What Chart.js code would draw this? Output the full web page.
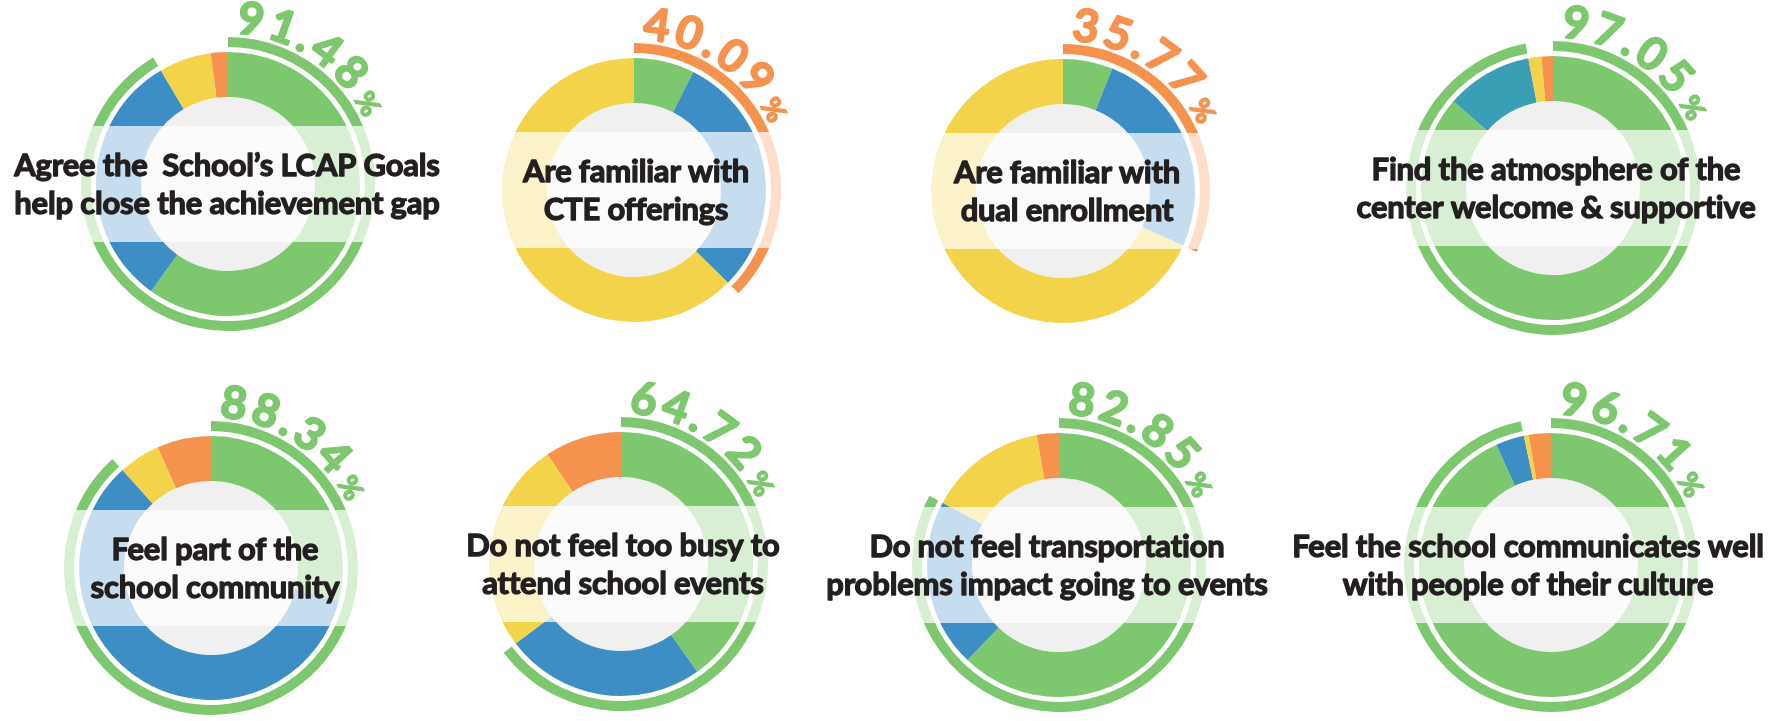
<!DOCTYPE html>
<html><head><meta charset="utf-8">
<script src="https://cdn.jsdelivr.net/npm/chart.js@4/dist/chart.umd.min.js"></script>
<style>
html,body{margin:0;padding:0;background:#fff;width:1779px;height:721px;overflow:hidden;position:relative}
canvas{position:absolute}
</style></head><body>
<script>
// ---- data ----
const questions = [
  ["Agree the  School\u2019s LCAP Goals", "help close the achievement gap"],
  ["Are familiar with", "CTE offerings"],
  ["Are familiar with", "dual enrollment"],
  ["Find the atmosphere of the", "center welcome & supportive"],
  ["Feel part of the", "school community"],
  ["Do not feel too busy to", "attend school events"],
  ["Do not feel transportation", "problems impact going to events"],
  ["Feel the school communicates well", "with people of their culture"]
];
const responseCategories = ["Strongly agree", "Agree", "Disagree", "Strongly disagree"];
const stronglyAgree    = [59.9,  7.4,  6.1, 86.4, 29.0, 40.2, 62.2, 93.2];
const agree            = [31.6, 30.0, 25.7, 10.6, 59.3, 24.5, 20.6,  3.5];
const disagree         = [ 6.4, 62.6, 68.2,  1.6,  5.1, 25.9, 14.5,  0.6];
const stronglyDisagree = [ 2.1,  0.0,  0.0,  1.4,  6.6,  9.4,  2.7,  2.7];
const percentLabels    = ["91.48", "40.09", "35.77", "97.05", "88.34", "64.72", "82.85", "96.71"];

// ---- layout / style ----
const centers = [[228,184],[634,190],[1063,191],[1553,188],[211,568],[621,564],[1059,565],[1551,565]];
const textCenterX = [227,636,1067,1556,215,623,1047,1528];
const GREEN = '#7dc86e', BLUE = '#3e8ec6', TEAL = '#3a9eb5', YELLOW = '#f3d34a', ORANGE = '#f5924e';
const agreeColors = [BLUE, BLUE, BLUE, TEAL, BLUE, BLUE, BLUE, BLUE];
const CW = 520, CH = 400;

function drawCurved(ctx, cx, cy, text, color) {
  const R = 151;
  let a = 3.0 * Math.PI / 180;
  ctx.save();
  ctx.fillStyle = color;
  ctx.strokeStyle = color;
  ctx.lineWidth = 2;
  ctx.lineJoin = 'round';
  ctx.textAlign = 'center';
  ctx.textBaseline = 'alphabetic';
  const track = 4;
  for (const ch of text) {
    ctx.font = 'bold 45px Lato';
    const w = ctx.measureText(ch).width;
    const ac = a + (w / 2) / R;
    ctx.save(); ctx.translate(cx, cy); ctx.rotate(ac);
    ctx.fillText(ch, 0, -R); ctx.strokeText(ch, 0, -R); ctx.restore();
    a += (w + track) / R;
  }
  ctx.font = 'bold 28px Lato';
  ctx.lineWidth = 1.5;
  const w = ctx.measureText('%').width;
  const ac = a + 4 / R + (w / 2) / R;
  ctx.save(); ctx.translate(cx, cy); ctx.rotate(ac);
  ctx.fillText('%', 0, -R); ctx.strokeText('%', 0, -R); ctx.restore();
  ctx.restore();
}

for (let i = 0; i < questions.length; i++) {
  const [cx, cy] = centers[i];
  const cv = document.createElement('canvas');
  cv.width = CW; cv.height = CH;
  cv.style.left = (cx - CW / 2) + 'px';
  cv.style.top = (cy - CH / 2) + 'px';
  document.body.appendChild(cv);
  const pct = parseFloat(percentLabels[i]);
  const hiColor = pct >= 50 ? GREEN : ORANGE;
  const arcValue = stronglyAgree[i] + agree[i];
  const overlay = {
    id: 'overlay' + i,
    afterDatasetsDraw(chart) {
      const ctx = chart.ctx;
      const x0 = CW / 2, y0 = CH / 2;
      ctx.save();
      ctx.fillStyle = 'rgba(255,255,255,0.7)';
      ctx.fillRect(x0 - 152, y0 - 58, 304, 116);
      ctx.restore();
    },
    afterDraw(chart) {
      const ctx = chart.ctx;
      const x0 = CW / 2, y0 = CH / 2;
      drawCurved(ctx, x0, y0, percentLabels[i], hiColor);
      ctx.save();
      ctx.fillStyle = '#231f20';
      ctx.strokeStyle = '#231f20';
      ctx.lineWidth = 1.3;
      ctx.lineJoin = 'round';
      ctx.font = 'bold 31px Lato';
      ctx.letterSpacing = '-0.2px';
      ctx.textAlign = 'center';
      ctx.textBaseline = 'alphabetic';
      const tx = textCenterX[i] - (cx - CW / 2);
      [[questions[i][0], y0 - 8], [questions[i][1], y0 + 30]].forEach(([t, y]) => {
        ctx.fillText(t, tx, y);
        ctx.strokeText(t, tx, y);
      });
      ctx.restore();
    }
  };
  new Chart(cv, {
    type: 'doughnut',
    data: {
      labels: responseCategories,
      datasets: [
        { data: [arcValue, 100 - arcValue], backgroundColor: [hiColor, 'rgba(0,0,0,0)'], weight: 10 },
        { data: [100], backgroundColor: ['rgba(0,0,0,0)'], weight: 5 },
        { data: [stronglyAgree[i], agree[i], disagree[i], stronglyDisagree[i]],
          backgroundColor: [GREEN, agreeColors[i], YELLOW, ORANGE], weight: 45 },
        { data: [100], backgroundColor: ['#f0f0f0'], weight: 87 }
      ]
    },
    options: {
      responsive: false,
      animation: false,
      events: [],
      radius: 147,
      cutout: 0,
      borderWidth: 0,
      elements: { arc: { borderWidth: 0 } },
      plugins: { legend: { display: false }, tooltip: { enabled: false } }
    },
    plugins: [overlay]
  });
}
</script>
</body></html>
